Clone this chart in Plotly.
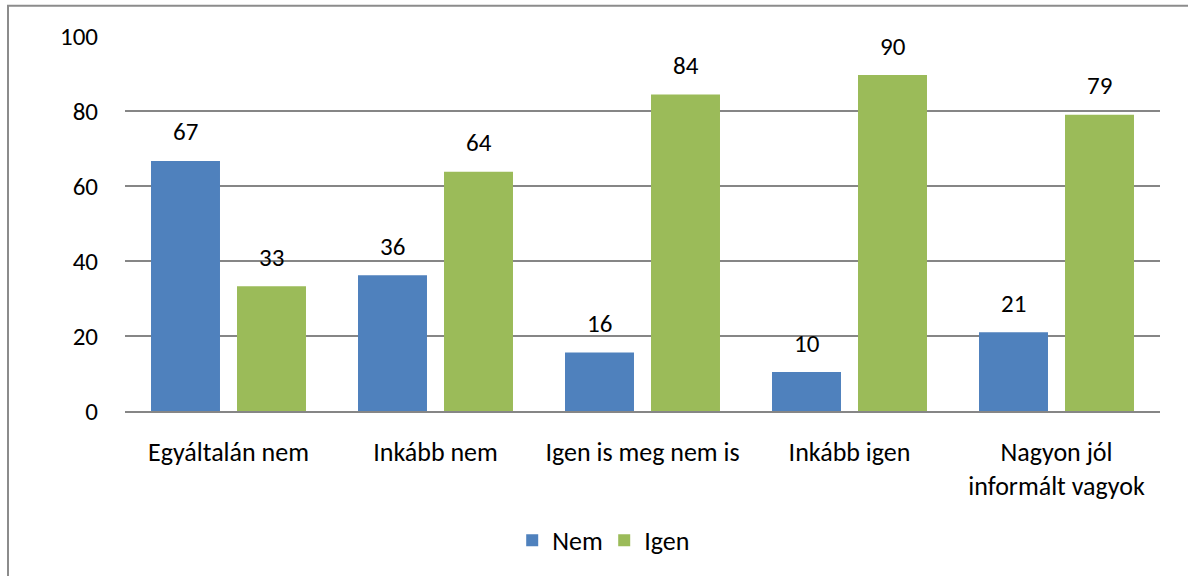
import plotly.graph_objects as go

categories = ["Egyáltalán nem", "Inkább nem", "Igen is meg nem is", "Inkább igen",
              "Nagyon jól<br>informált vagyok"]
nem = [66.7, 36.2, 15.6, 10.4, 21.0]
igen = [33.3, 63.8, 84.4, 89.6, 79.0]
y_ticks = [0, 20, 40, 60, 80, 100]

FONT = "Carlito, Lato, sans-serif"
BLUE = "#4F81BD"
GREEN = "#9BBB59"

fig = go.Figure()
fig.add_trace(go.Bar(name="Nem", x=categories, y=nem, marker=dict(color=BLUE, line=dict(width=0))))
fig.add_trace(go.Bar(name="Igen", x=categories, y=igen, marker=dict(color=GREEN, line=dict(width=0))))

annotations = []
for series, shift in ((nem, -43), (igen, 43)):
    for c, v in zip(categories, series):
        annotations.append(dict(x=c, y=v, xref="x", yref="y", text=f"{v:.0f}", showarrow=False,
                                xshift=shift, yshift=29, yanchor="middle",
                                font=dict(family=FONT, size=25, color="black")))

W, H = 1188, 576
L, R, T, B = 125, 28, 36, 163
pw = W - L - R
ph = H - T - B
def px(x):
    return (x - L) / pw
def py(y):
    return (H - B - y) / ph

shapes = [
    dict(type="rect", xref="paper", yref="paper", x0=px(8), x1=px(1250), y0=py(620), y1=py(5.5),
         line=dict(color="#8c8c8c", width=2), fillcolor="rgba(0,0,0,0)", layer="above"),
]

fig.update_layout(
    width=W, height=H,
    margin=dict(l=L, r=R, t=T, b=B, pad=0),
    paper_bgcolor="white", plot_bgcolor="white",
    barmode="group", bargap=0.169, bargroupgap=0.198,
    font=dict(family=FONT, size=26, color="black"),
    showlegend=True,
    legend=dict(orientation="h", x=0.463, xanchor="center", y=py(543), yanchor="middle",
                font=dict(family=FONT, size=26), itemwidth=30, traceorder="normal",
                entrywidth=47),
    annotations=annotations,
    shapes=shapes,
)
fig.update_xaxes(showgrid=False, showline=True, linecolor="#868686", linewidth=2,
                 ticks="", ticklabelstandoff=17, tickfont=dict(family=FONT, size=26))
fig.update_yaxes(range=[0, 100], tickvals=y_ticks, showgrid=True, gridcolor="#868686", gridwidth=1.5,
                 zeroline=False, showline=False, ticks="", ticklabelstandoff=26,
                 tickfont=dict(family=FONT, size=25))

fig.write_html("out.html", config={"displayModeBar": False},
               post_script="document.body.style.margin='0';document.body.style.overflow='hidden';")
